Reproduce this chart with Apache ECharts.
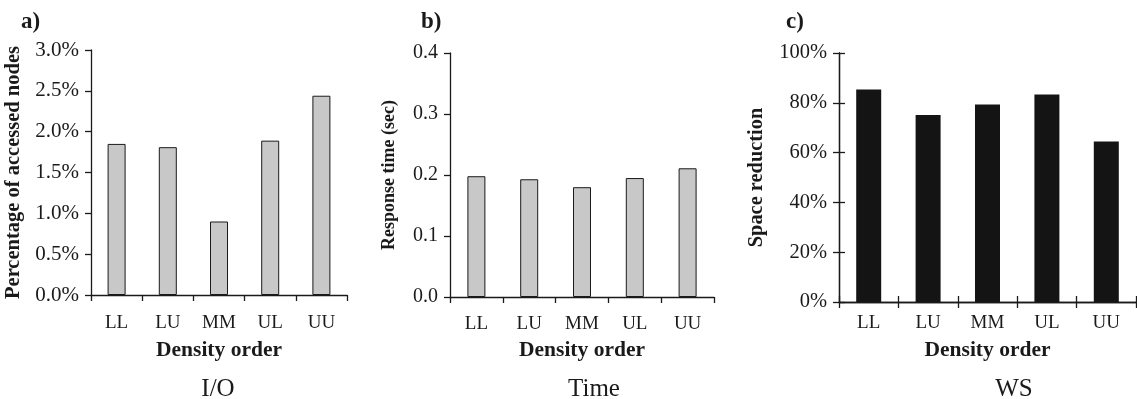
<!DOCTYPE html>
<html>
<head>
<meta charset="utf-8">
<script src="https://cdn.jsdelivr.net/npm/echarts@6/dist/echarts.min.js"></script>
<style>
  html, body { margin: 0; padding: 0; background: #fff; }
  #chart { width: 1137px; height: 399px; }
</style>
</head>
<body>
<div id="chart"></div>
<script>
const categories = ['LL', 'LU', 'MM', 'UL', 'UU'];
// a) percentage of accessed nodes (%)
const ioValues = [1.85, 1.81, 0.90, 1.89, 2.44];
// b) response time (sec)
const timeValues = [0.198, 0.193, 0.180, 0.195, 0.211];
// c) space reduction (%)
const wsValues = [85.3, 75.1, 79.3, 83.3, 64.5];

const ioTicks = { min: 0, max: 3, interval: 0.5 };
const timeTicks = { min: 0, max: 0.4, interval: 0.1 };
const wsTicks = { min: 0, max: 100, interval: 20 };

const SERIF = '"Liberation Serif", "Times New Roman", serif';
const INK = '#1a1a1a';

function nameStyle(size) {
    return { fontFamily: SERIF, fontSize: size, fontWeight: 'bold', color: INK };
}

function xAxisFor(grid, labelMargin, nameGap) {
    return {
        type: 'category', gridIndex: grid, data: categories, position: 'bottom',
        axisLine: { show: true, lineStyle: { color: INK, width: 1.3 } },
        axisTick: { show: true, length: 6, lineStyle: { color: INK, width: 1.3 } },
        axisLabel: { margin: labelMargin, fontFamily: SERIF, fontSize: 19, color: INK },
        name: 'Density order', nameLocation: 'middle', nameGap: nameGap,
        nameTextStyle: nameStyle(21.5)
    };
}

function yAxisFor(grid, ticks, fmt, labelSize, name, nameSize, gap) {
    return {
        type: 'value', gridIndex: grid, position: 'left',
        min: ticks.min, max: ticks.max, interval: ticks.interval,
        splitLine: { show: false },
        axisLine: { show: true, lineStyle: { color: INK, width: 1.3 } },
        axisTick: { show: true, length: 6, lineStyle: { color: INK, width: 1.3 } },
        axisLabel: { margin: 12, formatter: fmt, fontFamily: SERIF, fontSize: labelSize, color: INK },
        name: name, nameLocation: 'middle', nameGap: gap, nameRotate: 90,
        nameTextStyle: nameStyle(nameSize)
    };
}

const chart = echarts.init(document.getElementById('chart'), null, { renderer: 'canvas' });

const grayBar = { color: '#c8c8c8', borderColor: INK, borderWidth: 1 };
const panelLabel = { fontFamily: SERIF, fontSize: 23, fontWeight: 'bold', color: INK };
const caption = { fontFamily: SERIF, fontSize: 25, fontWeight: 'normal', color: INK };

// panel c has ticks crossing the axes: a second pair of axes sits on the
// opposite side of the grid and is pulled back onto the main axes by a negative offset
const cInnerX = xAxisFor(2, 12, 0);
Object.assign(cInnerX, { position: 'top', offset: -249, name: '', axisLabel: { show: false } });
const cInnerY = yAxisFor(2, wsTicks, v => '', 20, '', 18, 0);
Object.assign(cInnerY, { position: 'right', offset: -297, name: '', axisLabel: { show: false } });

const option = {
    backgroundColor: '#fff',
    animation: false,
    title: [
        { text: 'a)', left: 16, top: 6, textStyle: panelLabel },
        { text: 'b)', left: 416, top: 6, textStyle: panelLabel },
        { text: 'c)', left: 781, top: 6, textStyle: panelLabel },
        { text: 'I/O', left: 213, top: 372, textAlign: 'center', textStyle: caption },
        { text: 'Time', left: 589, top: 372, textAlign: 'center', textStyle: caption },
        { text: 'WS', left: 1009, top: 372, textAlign: 'center', textStyle: caption }
    ],
    grid: [
        { left: 91, top: 50, width: 256, height: 245 },
        { left: 450, top: 53, width: 264, height: 244 },
        { left: 839, top: 53, width: 297, height: 249 }
    ],
    xAxis: [
        xAxisFor(0, 19, 44),
        xAxisFor(1, 18, 42),
        xAxisFor(2, 12, 37),
        cInnerX
    ],
    yAxis: [
        yAxisFor(0, ioTicks, v => v.toFixed(1) + '%', 21, 'Percentage of accessed nodes', 20.5, 67),
        yAxisFor(1, timeTicks, v => v.toFixed(1), 20, 'Response time (sec)', 18, 52),
        yAxisFor(2, wsTicks, v => Math.round(v) + '%', 20.5, 'Space reduction', 20.4, 72),
        cInnerY
    ],
    series: [
        { type: 'bar', xAxisIndex: 0, yAxisIndex: 0, data: ioValues, barWidth: 18, itemStyle: grayBar },
        { type: 'bar', xAxisIndex: 1, yAxisIndex: 1, data: timeValues, barWidth: 18, itemStyle: grayBar },
        { type: 'bar', xAxisIndex: 2, yAxisIndex: 2, data: wsValues, barWidth: 25, itemStyle: { color: '#141414' } }
    ]
};

chart.setOption(option);
</script>
</body>
</html>
